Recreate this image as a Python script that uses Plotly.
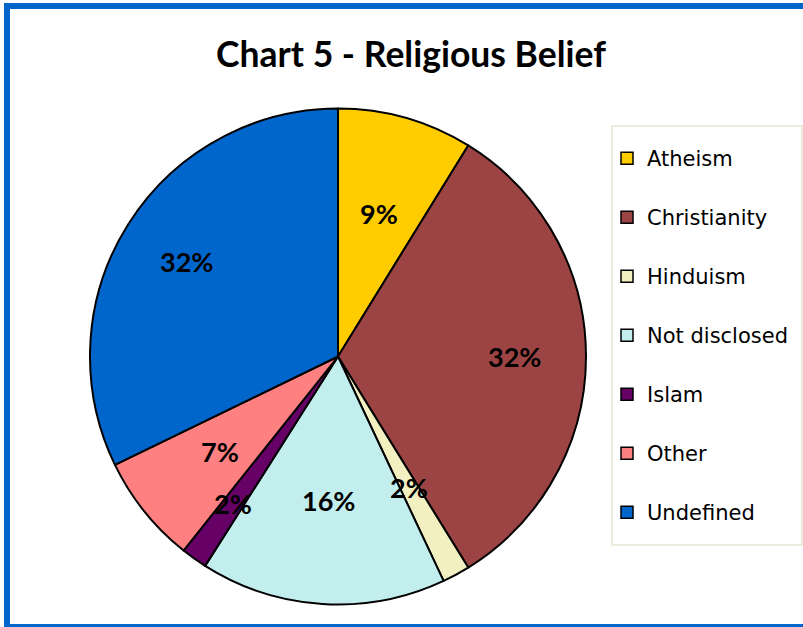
import math
import plotly.graph_objects as go

labels = ["Atheism", "Christianity", "Hinduism", "Not disclosed", "Islam", "Other", "Undefined"]
values = [8.8, 32.4, 1.8, 16.0, 1.7, 7.1, 32.2]
colors = ["#FFCC00", "#9C4444", "#F2F0C0", "#C2EEEE", "#660066", "#FF8080", "#0066CC"]

W, H = 803, 627

def px(x):
    return x / W

def py(y):
    return 1 - y / H

# pie geometry (pixels)
left, right, top, bottom = 90, 586, 108, 605
cx, cy = (left + right) / 2, (top + bottom) / 2
R = min(right - left, bottom - top) / 2
# radial placement of the percentage labels (fraction of radius)
label_r = [0.60, 0.71, 0.60, 0.58, 0.73, 0.61, 0.72]

fig = go.Figure()
fig.add_trace(go.Pie(
    labels=labels, values=values, sort=False, direction="clockwise", rotation=0,
    marker=dict(colors=colors, line=dict(color="black", width=2)),
    textinfo="none",
    domain=dict(x=[px(left), px(right)], y=[py(bottom), py(top)]),
    showlegend=False, hoverinfo="label+percent",
))

for lab, col in zip(labels, colors):
    fig.add_trace(go.Scatter(
        x=[None], y=[None], mode="markers", name=lab, legendgroup=lab,
        marker=dict(symbol="square", size=12, color=col, line=dict(color="black", width=1.5)),
    ))

total = sum(values)
annotations = []
cum = 0.0
for v, rf in zip(values, label_r):
    mid = (cum + v / 2) / total * 2 * math.pi
    cum += v
    x = cx + rf * R * math.sin(mid)
    y = cy - rf * R * math.cos(mid)
    annotations.append(dict(
        x=px(x), y=py(y), xref="paper", yref="paper", showarrow=False,
        text=f"<b>{round(v / total * 100)}%</b>",
        font=dict(family="Lato", size=27, color="black"),
        xanchor="center", yanchor="middle",
    ))

fig.update_layout(
    width=W, height=H,
    margin=dict(l=0, r=0, t=0, b=0),
    paper_bgcolor="white", plot_bgcolor="white",
    xaxis=dict(visible=False), yaxis=dict(visible=False),
    title=dict(text="<b>Chart 5 - Religious Belief</b>", x=px(411), xanchor="center",
               y=py(55), yanchor="middle",
               font=dict(family="Lato", size=35.5, color="black")),
    legend=dict(x=px(607), y=py(138), xanchor="left", yanchor="top",
                borderwidth=0, bgcolor="rgba(0,0,0,0)",
                font=dict(family="DejaVu Sans", size=21, color="black"),
                tracegroupgap=28.7, itemclick=False),
    annotations=annotations,
    shapes=[
        dict(type="rect", xref="paper", yref="paper",
             x0=px(612), x1=px(802), y0=py(545), y1=py(126),
             line=dict(color="#ECECDC", width=2), layer="below"),
        dict(type="rect", xref="paper", yref="paper",
             x0=px(7), x1=px(808), y0=py(627), y1=py(6),
             line=dict(color="#0066CC", width=6)),
    ],
)

fig.write_html("out.html", config={"displayModeBar": False},
               post_script="document.body.style.margin='0';document.body.style.padding='0';")
